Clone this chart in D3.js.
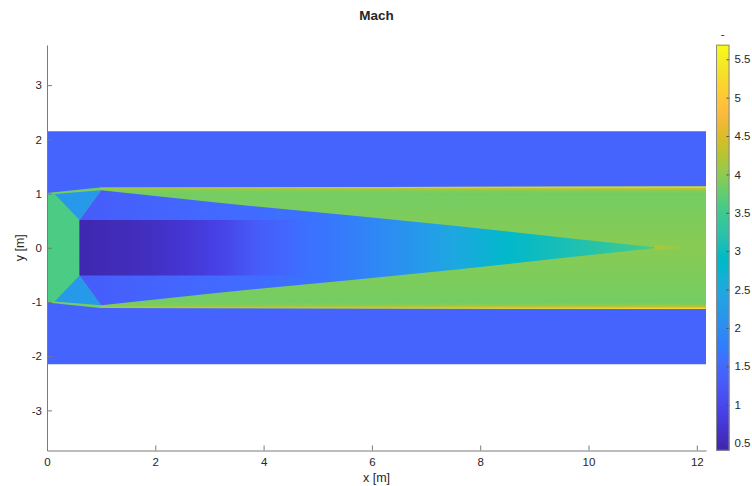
<!DOCTYPE html>
<html>
<head>
<meta charset="utf-8">
<script src="https://cdn.jsdelivr.net/npm/d3@7"></script>
<style>
  html, body { margin: 0; padding: 0; background: #fff; }
  svg { display: block; font-family: "Liberation Sans", Arial, Helvetica, sans-serif; }
</style>
</head>
<body>
<svg id="chart" width="752" height="486"></svg>
<script>
// Parula colormap, 64 entries (r, g, b in 0..1)
const parula = [
  [0.2422,0.1504,0.6603],[0.2504,0.1650,0.7076],[0.2578,0.1818,0.7511],[0.2647,0.1978,0.7952],
  [0.2706,0.2147,0.8364],[0.2751,0.2342,0.8710],[0.2783,0.2559,0.8991],[0.2803,0.2782,0.9221],
  [0.2813,0.3006,0.9414],[0.2810,0.3228,0.9579],[0.2795,0.3447,0.9717],[0.2760,0.3667,0.9829],
  [0.2699,0.3892,0.9906],[0.2602,0.4123,0.9952],[0.2440,0.4358,0.9988],[0.2206,0.4603,0.9973],
  [0.1963,0.4847,0.9892],[0.1834,0.5074,0.9798],[0.1786,0.5289,0.9682],[0.1764,0.5499,0.9520],
  [0.1687,0.5703,0.9359],[0.1540,0.5902,0.9218],[0.1460,0.6091,0.9079],[0.1380,0.6276,0.8973],
  [0.1248,0.6459,0.8883],[0.1113,0.6635,0.8763],[0.0952,0.6798,0.8598],[0.0689,0.6948,0.8394],
  [0.0297,0.7082,0.8163],[0.0036,0.7203,0.7917],[0.0067,0.7312,0.7660],[0.0433,0.7411,0.7394],
  [0.0964,0.7500,0.7120],[0.1408,0.7584,0.6842],[0.1717,0.7670,0.6554],[0.1938,0.7758,0.6251],
  [0.2161,0.7843,0.5923],[0.2470,0.7918,0.5567],[0.2906,0.7973,0.5188],[0.3406,0.8008,0.4789],
  [0.3909,0.8029,0.4354],[0.4456,0.8024,0.3909],[0.5044,0.7993,0.3480],[0.5616,0.7942,0.3045],
  [0.6174,0.7876,0.2612],[0.6720,0.7793,0.2227],[0.7242,0.7698,0.1910],[0.7738,0.7598,0.1646],
  [0.8203,0.7498,0.1535],[0.8634,0.7406,0.1596],[0.9035,0.7330,0.1774],[0.9393,0.7288,0.2100],
  [0.9728,0.7298,0.2394],[0.9956,0.7434,0.2371],[0.9970,0.7659,0.2199],[0.9952,0.7893,0.2028],
  [0.9892,0.8136,0.1885],[0.9786,0.8386,0.1766],[0.9676,0.8639,0.1643],[0.9610,0.8890,0.1537],
  [0.9597,0.9135,0.1423],[0.9628,0.9373,0.1265],[0.9691,0.9606,0.1064],[0.9769,0.9839,0.0805]
];

// Axis ticks and limits
const xTicks = [0, 2, 4, 6, 8, 10, 12];
const yTicks = [-3, -2, -1, 0, 1, 2, 3];
const cbTicks = [0.5, 1, 1.5, 2, 2.5, 3, 3.5, 4, 4.5, 5, 5.5];
const xDomain = [0, 12.17];
const yDomain = [-3.74, 3.74];
const machRange = [0.40, 5.69];

// Flow regions, upper half given as [x, y] in metres (mirrored about y = 0)
const outerHalfHeight = 2.15;                      // surrounding stream
const outerMach = 1.42;
const wallUpper = [[0, 1.01], [0.98, 1.11], [12.17, 1.13]];   // duct wall
const channelMach = [[1.13, 3.84], [0.6, 3.9], [0, 3.97]];    // [|y|, Mach]
const inletUpper = [[0, 1.01], [0.14, 0.99], [0.6, 0.51]];
const inletMach = 3.6;
const fanUpper = [[0.14, 0.99], [1.0, 1.06], [0.6, 0.51]];
const fanMach = 2.2;
const jetUpper = [[0.6, 0.51], [1.0, 1.06], [3.26, 0.82], [5.72, 0.585], [7.57, 0.40], [9.6, 0.18], [11.3, 0]];
const jetMach = [[0.6, 1.3], [1.5, 1.38], [2.6, 1.47], [3.9, 1.53], [5.1, 1.65], [6.3, 2.0], [7.55, 2.47], [8.5, 2.84], [9.6, 3.1], [10.8, 3.42], [11.3, 3.6]];
const coreUpper = [[0.6, 0.51], [4.9, 0.51]];
const coreMach = [[0.6, 0.45], [1.7, 0.55], [2.6, 0.74], [3.26, 0.95], [3.87, 1.3], [4.4, 1.45], [4.9, 1.63]];
const wallLayerDepth = [[0, 5.6], [0.015, 5.0], [0.035, 4.4], [0.07, 4.0], [0.12, 3.86]]; // [distance from wall, Mach]
const wallLayerStrength = [[0.98, 0.5], [4, 0.7], [8, 0.95], [12.17, 1]];
const wakeUpper = [[11.22, 0.05], [11.95, 0]];
const wakeMach = 4.2;

// Layout
const W = 752, H = 486;
const plot = { left: 47, right: 706, top: 45, bottom: 450.5 };
const cbar = { left: 716, right: 729.5, top: 44.7, bottom: 450.7 };
const ink = "#262626";

const svg = d3.select("#chart");
const defs = svg.append("defs");

const x = d3.scaleLinear().domain(xDomain).range([plot.left, plot.right]);
const y = d3.scaleLinear().domain(yDomain).range([plot.bottom, plot.top]);

const parulaHex = parula.map(([r, g, b]) => d3.rgb(r * 255, g * 255, b * 255).formatHex());
const color = d3.scaleLinear()
  .domain(parulaHex.map((_, i) => machRange[0] + i / (parulaHex.length - 1) * (machRange[1] - machRange[0])))
  .range(parulaHex)
  .interpolate(d3.interpolateRgb)
  .clamp(true);

const mirror = pts => pts.concat(pts.slice().reverse().map(([px, py]) => [px, -py]));
const flip = pts => pts.map(([px, py]) => [px, -py]);
const line = d3.line().x(d => x(d[0])).y(d => y(d[1]));
const poly = pts => line(pts) + "Z";

// Horizontal gradient from [x, Mach] stops
function xGradient(id, stops, opacity) {
  const x0 = x(stops[0][0]), x1 = x(stops[stops.length - 1][0]);
  const g = defs.append("linearGradient").attr("id", id)
    .attr("gradientUnits", "userSpaceOnUse")
    .attr("x1", x0).attr("x2", x1).attr("y1", 0).attr("y2", 0);
  g.selectAll("stop").data(stops).join("stop")
    .attr("offset", d => (x(d[0]) - x0) / (x1 - x0))
    .attr("stop-color", d => color(d[1]))
    .attr("stop-opacity", (d, i) => opacity ? opacity[i] : 1);
  return `url(#${id})`;
}

// Vertical gradient from [y, Mach] stops (y in metres)
function yGradient(id, stops) {
  const y0 = y(stops[0][0]), y1 = y(stops[stops.length - 1][0]);
  const g = defs.append("linearGradient").attr("id", id)
    .attr("gradientUnits", "userSpaceOnUse")
    .attr("x1", 0).attr("x2", 0).attr("y1", y0).attr("y2", y1);
  g.selectAll("stop").data(stops).join("stop")
    .attr("offset", d => (y(d[0]) - y0) / (y1 - y0))
    .attr("stop-color", d => color(d[1]));
  return `url(#${id})`;
}

const field = svg.append("g").attr("class", "field");

// Surrounding stream
field.append("path")
  .attr("d", poly([[xDomain[0], outerHalfHeight], [xDomain[1], outerHalfHeight],
                   [xDomain[1], -outerHalfHeight], [xDomain[0], -outerHalfHeight]]))
  .attr("fill", color(outerMach));

// Duct flow
const channelStops = channelMach.concat(channelMach.slice(0, -1).reverse().map(([yy, m]) => [-yy, m]));
field.append("path")
  .attr("d", poly(mirror(wallUpper)))
  .attr("fill", yGradient("chanGrad", channelStops));

// Hot boundary layers along both walls
const wallTop = wallUpper[wallUpper.length - 1][1];
const layerDepth = wallLayerDepth[wallLayerDepth.length - 1][0];
const strengthMask = defs.append("mask").attr("id", "layerMask")
  .attr("maskUnits", "userSpaceOnUse").attr("x", 0).attr("y", 0).attr("width", W).attr("height", H);
(function () {
  const s = wallLayerStrength;
  const x0 = x(s[0][0]), x1 = x(s[s.length - 1][0]);
  const g = defs.append("linearGradient").attr("id", "layerFade")
    .attr("gradientUnits", "userSpaceOnUse")
    .attr("x1", x0).attr("x2", x1).attr("y1", 0).attr("y2", 0);
  g.selectAll("stop").data(s).join("stop")
    .attr("offset", d => (x(d[0]) - x0) / (x1 - x0))
    .attr("stop-color", "#fff").attr("stop-opacity", d => d[1]);
  strengthMask.append("rect").attr("x", 0).attr("y", 0).attr("width", W).attr("height", H)
    .attr("fill", "url(#layerFade)");
})();
[1, -1].forEach((side, k) => {
  const wallPts = wallUpper.slice(1).map(([px, py]) => [px, side * py]);
  const inner = wallPts.slice().reverse().map(([px, py]) => [px, py - side * layerDepth]);
  const stops = wallLayerDepth.map(([dd, m]) => [side * (wallTop - dd), m]);
  field.append("path")
    .attr("d", poly(wallPts.concat(inner)))
    .attr("fill", yGradient("layerGrad" + k, stops))
    .attr("mask", "url(#layerMask)");
});

// Nozzle inlet
field.append("path").attr("d", poly(mirror(inletUpper))).attr("fill", color(inletMach));

// Expansion fans at the lip
field.append("path").attr("d", poly(fanUpper)).attr("fill", color(fanMach));
field.append("path").attr("d", poly(flip(fanUpper))).attr("fill", color(fanMach));

// Jet core cone
field.append("path")
  .attr("d", poly(mirror(jetUpper)))
  .attr("fill", xGradient("jetGrad", jetMach));

// Subsonic core behind the centre body
field.append("path")
  .attr("d", poly(mirror(coreUpper)))
  .attr("fill", xGradient("coreGrad", coreMach));

// Wake past the cone tip
field.append("path")
  .attr("d", poly(mirror(wakeUpper)))
  .attr("fill", xGradient("wakeGrad", [[wakeUpper[0][0], wakeMach], [wakeUpper[1][0], wakeMach]], [0.85, 0]));

// Axes
const axisG = svg.append("g").attr("class", "axes");
const xAxis = d3.axisBottom(x).tickValues(xTicks).tickSizeInner(-5).tickSizeOuter(0).tickPadding(7)
  .tickFormat(d3.format("d"));
const yAxis = d3.axisLeft(y).tickValues(yTicks).tickSizeInner(-5).tickSizeOuter(0).tickPadding(5)
  .tickFormat(d3.format("d"));

const gx = axisG.append("g").attr("transform", `translate(0,${plot.bottom})`).call(xAxis);
const gy = axisG.append("g").attr("transform", `translate(${plot.left},0)`).call(yAxis);
[gx, gy].forEach(g => {
  g.select(".domain").attr("stroke", "#7a7a7a");
  g.selectAll(".tick line").attr("stroke", "#7a7a7a");
  g.selectAll(".tick text").attr("fill", ink).attr("font-size", 11.5)
    .attr("font-family", '"Liberation Sans", Arial, sans-serif');
});
gy.selectAll(".tick text").text(d => d < 0 ? "-" + Math.abs(d) : d);

// Labels and title
svg.append("text").attr("x", (plot.left + plot.right) / 2).attr("y", 481.5)
  .attr("text-anchor", "middle").attr("font-size", 12.5).attr("fill", ink).text("x [m]");
svg.append("text").attr("transform", `translate(24,${y(0)}) rotate(-90)`)
  .attr("text-anchor", "middle").attr("font-size", 12.5).attr("fill", ink).text("y [m]");
svg.append("text").attr("x", (plot.left + plot.right) / 2).attr("y", 20)
  .attr("text-anchor", "middle").attr("font-size", 13.5).attr("font-weight", "bold")
  .attr("fill", ink).text("Mach");

// Colorbar
const cb = d3.scaleLinear().domain(machRange).range([cbar.bottom, cbar.top]);
const cbGrad = defs.append("linearGradient").attr("id", "cbGrad")
  .attr("x1", 0).attr("x2", 0).attr("y1", 1).attr("y2", 0);
cbGrad.selectAll("stop").data(parulaHex).join("stop")
  .attr("offset", (d, i) => i / (parulaHex.length - 1))
  .attr("stop-color", d => d);
const cbG = svg.append("g").attr("class", "colorbar");
cbG.append("rect")
  .attr("x", cbar.left).attr("y", cbar.top)
  .attr("width", cbar.right - cbar.left).attr("height", cbar.bottom - cbar.top)
  .attr("fill", "url(#cbGrad)");
const cbAxis = d3.axisRight(cb).tickValues(cbTicks).tickSizeInner(-3).tickSizeOuter(0).tickPadding(5)
  .tickFormat(d => String(d));
const gcb = cbG.append("g").attr("transform", `translate(${cbar.right},0)`).call(cbAxis);
gcb.select(".domain").remove();
gcb.selectAll(".tick line").attr("stroke", "#4d4d4d");
gcb.selectAll(".tick text").attr("fill", ink).attr("font-size", 11.5)
  .attr("font-family", '"Liberation Sans", Arial, sans-serif');
cbG.append("rect")
  .attr("x", cbar.left + 0.5).attr("y", cbar.top + 0.5)
  .attr("width", cbar.right - cbar.left - 1).attr("height", cbar.bottom - cbar.top - 1)
  .attr("fill", "none").attr("stroke", "#8a8a8a").attr("stroke-width", 1);
cbG.append("text").attr("x", (cbar.left + cbar.right) / 2).attr("y", 38)
  .attr("text-anchor", "middle").attr("font-size", 11.5).attr("fill", ink).text("-");
</script>
</body>
</html>
